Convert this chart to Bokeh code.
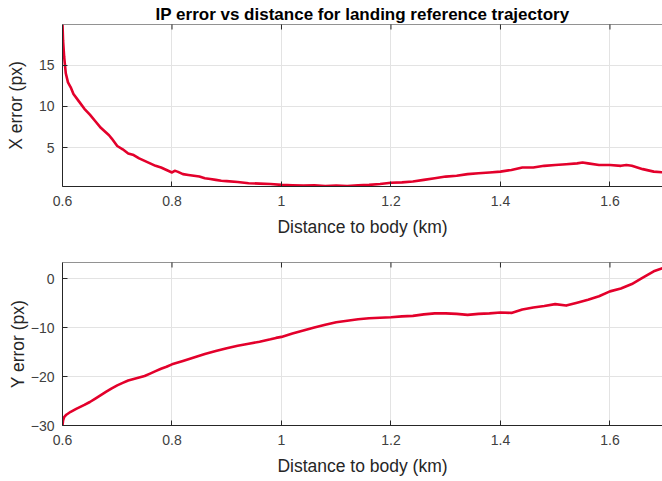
import math
from bokeh.plotting import figure
from bokeh.layouts import column
from bokeh.models import Range1d, FixedTicker, Span
from bokeh.embed import file_html
from bokeh.resources import INLINE

# Distance to body (km) and image-point errors (px)
distance_x = [0.600, 0.601, 0.603, 0.606, 0.610, 0.615, 0.620, 0.630, 0.640, 0.650,
              0.660, 0.670, 0.680, 0.685, 0.690, 0.700, 0.710, 0.720, 0.730, 0.740,
              0.750, 0.760, 0.770, 0.780, 0.790, 0.800, 0.805, 0.810, 0.820, 0.830,
              0.840, 0.850, 0.860, 0.870, 0.880, 0.890, 0.900, 0.920, 0.940, 0.960,
              0.980, 1.000, 1.020, 1.040, 1.060, 1.080, 1.100, 1.120, 1.140, 1.160,
              1.180, 1.200, 1.220, 1.240, 1.260, 1.280, 1.300, 1.320, 1.340, 1.360,
              1.380, 1.400, 1.420, 1.440, 1.460, 1.480, 1.500, 1.520, 1.540, 1.550,
              1.560, 1.580, 1.600, 1.620, 1.630, 1.640, 1.660, 1.680, 1.700]
x_error = [19.9, 18.0, 16.0, 14.0, 12.9, 12.3, 11.5, 10.6, 9.7, 9.0,
           8.2, 7.4, 6.8, 6.5, 6.1, 5.2, 4.8, 4.3, 4.1, 3.7,
           3.4, 3.1, 2.8, 2.6, 2.3, 2.0, 2.2, 2.1, 1.8, 1.7,
           1.6, 1.5, 1.3, 1.2, 1.1, 1.0, 0.95, 0.85, 0.7, 0.65,
           0.6, 0.5, 0.45, 0.4, 0.45, 0.35, 0.4, 0.35, 0.45, 0.5,
           0.6, 0.75, 0.8, 0.9, 1.1, 1.3, 1.5, 1.6, 1.8, 1.9,
           2.0, 2.1, 2.3, 2.6, 2.6, 2.8, 2.9, 3.0, 3.1, 3.2,
           3.1, 2.9, 2.9, 2.8, 2.9, 2.8, 2.4, 2.1, 2.0]

distance_y = [0.600, 0.601, 0.603, 0.607, 0.615, 0.625, 0.640, 0.650, 0.660, 0.670,
              0.680, 0.690, 0.700, 0.710, 0.720, 0.730, 0.740, 0.750, 0.760, 0.770,
              0.780, 0.790, 0.800, 0.820, 0.840, 0.860, 0.880, 0.900, 0.920, 0.940,
              0.960, 0.980, 0.990, 1.000, 1.020, 1.040, 1.060, 1.080, 1.100, 1.120,
              1.140, 1.160, 1.180, 1.200, 1.220, 1.240, 1.260, 1.280, 1.300, 1.320,
              1.340, 1.360, 1.380, 1.400, 1.420, 1.440, 1.460, 1.480, 1.500, 1.520,
              1.540, 1.560, 1.580, 1.600, 1.620, 1.640, 1.660, 1.680, 1.700]
y_error = [-30.0, -29.0, -28.3, -27.8, -27.2, -26.6, -25.8, -25.2, -24.5, -23.8,
           -23.1, -22.4, -21.8, -21.3, -20.8, -20.5, -20.2, -19.9, -19.4, -18.9,
           -18.4, -18.0, -17.5, -16.8, -16.1, -15.4, -14.8, -14.2, -13.7, -13.3,
           -12.9, -12.4, -12.1, -11.9, -11.2, -10.6, -10.0, -9.4, -8.9, -8.6,
           -8.3, -8.1, -8.0, -7.9, -7.7, -7.6, -7.3, -7.1, -7.1, -7.2,
           -7.4, -7.2, -7.1, -6.9, -7.0, -6.3, -5.9, -5.6, -5.2, -5.5,
           -4.9, -4.3, -3.6, -2.6, -2.0, -1.1, 0.2, 1.5, 2.3]

x_ticks = [0.6, 0.8, 1.0, 1.2, 1.4, 1.6]
x_tick_labels = {0.6: "0.6", 0.8: "0.8", 1.0: "1", 1.2: "1.2", 1.4: "1.4", 1.6: "1.6"}
top_y_ticks = [5, 10, 15]
bottom_y_ticks = [-30, -20, -10, 0]

FONT = "Liberation Sans"
LINE_RED = "#e3002b"
AXIS_GREY = "#262626"
TEXT_GREY = "#404040"


def make_panel(xs, ys, y_start, y_end, yticks, ylabel, height,
               border_top, border_bottom, ylabel_standoff):
    p = figure(width=662, height=height, output_backend="svg", toolbar_location=None,
               x_range=Range1d(0.6, 1.696), y_range=Range1d(y_start, y_end),
               min_border_left=62, min_border_right=0,
               min_border_top=border_top, min_border_bottom=border_bottom,
               x_axis_label="Distance to body (km)", y_axis_label=ylabel)
    p.outline_line_color = None
    p.background_fill_color = "white"
    p.border_fill_color = "white"

    p.xaxis.ticker = FixedTicker(ticks=x_ticks)
    p.xaxis.major_label_overrides = x_tick_labels
    p.yaxis.ticker = FixedTicker(ticks=yticks)

    for ax in p.axis:
        ax.axis_line_color = AXIS_GREY
        ax.axis_line_width = 1
        ax.major_tick_line_color = AXIS_GREY
        ax.major_tick_in = 5
        ax.major_tick_out = 0
        ax.minor_tick_line_color = None
        ax.major_label_text_font = FONT
        ax.major_label_text_color = TEXT_GREY
        ax.major_label_text_font_size = "14px"
        ax.axis_label_text_font = FONT
        ax.axis_label_text_font_style = "normal"
        ax.axis_label_text_color = AXIS_GREY
        ax.axis_label_text_font_size = "17.5px"
    p.xaxis.major_label_standoff = 9
    p.xaxis.axis_label_standoff = 8
    p.yaxis.major_label_standoff = 8
    p.yaxis.axis_label_standoff = ylabel_standoff

    p.xgrid.ticker = FixedTicker(ticks=x_ticks)
    p.ygrid.ticker = FixedTicker(ticks=yticks)
    p.grid.grid_line_color = "#e3e3e3"
    p.grid.grid_line_width = 1

    # top edge of the box with inward tick marks
    p.add_layout(Span(location=y_end, dimension="width",
                      line_color=AXIS_GREY, line_width=1))
    p.scatter(x_ticks, [y_end] * len(x_ticks), marker="dash", angle=math.pi / 2,
              size=10, line_color=AXIS_GREY, line_width=1)

    p.line(xs, ys, line_color=LINE_RED, line_width=2.6, line_join="round")
    return p


p_top = make_panel(distance_x, x_error, 0.3, 19.9, top_y_ticks, "X error (px)",
                   240, 24, 54, 10)
p_top.title.text = "IP error vs distance for landing reference trajectory"
p_top.title.align = "center"
p_top.title.text_font = FONT
p_top.title.text_font_size = "17px"
p_top.title.text_font_style = "bold"
p_top.title.text_color = "black"
p_top.title.standoff = 2

p_bottom = make_panel(distance_y, y_error, -30, 3.3, bottom_y_ticks, "Y error (px)",
                      241, 22, 56, 0)

layout = column(p_top, p_bottom, spacing=0)

open("out.html", "w").write(file_html(layout, INLINE))
